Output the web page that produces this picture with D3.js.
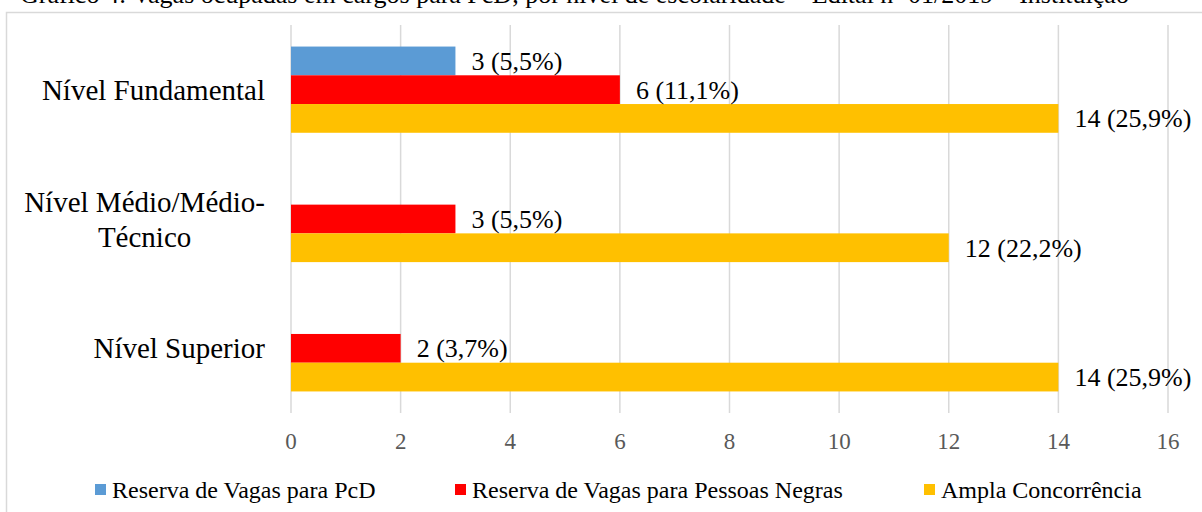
<!DOCTYPE html>
<html>
<head>
<meta charset="utf-8">
<script src="https://cdn.jsdelivr.net/npm/d3@7"></script>
<style>
  body { margin: 0; background: #fff; }
  text { font-family: "Liberation Serif", "Times New Roman", serif; }
</style>
</head>
<body>
<div class="chart"></div>
<script>
const categories = ["Nível Fundamental", "Nível Médio/Médio-Técnico", "Nível Superior"];
const categoryLines = [["Nível Fundamental"], ["Nível Médio/Médio-", "Técnico"], ["Nível Superior"]];
const seriesNames = ["Reserva de Vagas para PcD", "Reserva de Vagas para Pessoas Negras", "Ampla Concorrência"];
const seriesColors = ["#5b9bd5", "#ff0000", "#ffc000"];
const pcdValues = [3, 0, 0];
const negrasValues = [6, 3, 2];
const amplaValues = [14, 12, 14];
const pcdLabels = ["3 (5,5%)", "", ""];
const negrasLabels = ["6 (11,1%)", "3 (5,5%)", "2 (3,7%)"];
const amplaLabels = ["14 (25,9%)", "12 (22,2%)", "14 (25,9%)"];
const xTicks = [0, 2, 4, 6, 8, 10, 12, 14, 16];
const title = "Gráfico 4: Vagas ocupadas em cargos para PcD, por nível de escolaridade – Edital nº 01/2019 – Instituição";

const width = 1202;
const height = 512;

const svg = d3
  .select(".chart")
  .append("svg")
  .attr("width", width)
  .attr("height", height);

// title, mostly cut off at the top of the picture
svg
  .append("text")
  .attr("x", 20)
  .attr("y", 3)
  .attr("font-size", "26px")
  .attr("fill", "#000")
  .text(title);

// chart frame
svg
  .append("rect")
  .attr("x", 6.5)
  .attr("y", 12.5)
  .attr("width", 1220)
  .attr("height", 520)
  .attr("fill", "#fff")
  .attr("stroke", "#d9d9d9")
  .attr("stroke-width", 1.5);

const x = d3.scaleLinear().domain([0, 16]).range([291, 1168]);
const y = d3.scaleBand().domain(categories).range([25, 413]);
const yInner = d3
  .scaleBand()
  .domain(seriesNames)
  .range([0, y.bandwidth()])
  .paddingOuter(0.75);

// grid
svg
  .selectAll(".grid")
  .data(xTicks)
  .enter()
  .append("line")
  .attr("x1", (d) => x(d))
  .attr("x2", (d) => x(d))
  .attr("y1", 25)
  .attr("y2", 413)
  .attr("stroke", "#d9d9d9")
  .attr("stroke-width", 1.5);

// tick labels
svg
  .selectAll(".tick")
  .data(xTicks)
  .enter()
  .append("text")
  .attr("x", (d) => x(d))
  .attr("y", 449)
  .attr("text-anchor", "middle")
  .attr("font-size", "23px")
  .attr("fill", "#595959")
  .text((d) => d);

const rows = [];
categories.forEach((c, i) => {
  rows.push({ cat: c, s: seriesNames[0], v: pcdValues[i], label: pcdLabels[i], color: seriesColors[0] });
  rows.push({ cat: c, s: seriesNames[1], v: negrasValues[i], label: negrasLabels[i], color: seriesColors[1] });
  rows.push({ cat: c, s: seriesNames[2], v: amplaValues[i], label: amplaLabels[i], color: seriesColors[2] });
});

svg
  .selectAll(".bar")
  .data(rows.filter((d) => d.v > 0))
  .enter()
  .append("rect")
  .attr("x", x(0))
  .attr("y", (d) => y(d.cat) + yInner(d.s))
  .attr("width", (d) => x(d.v) - x(0))
  .attr("height", yInner.bandwidth())
  .attr("fill", (d) => d.color);

svg
  .selectAll(".val")
  .data(rows.filter((d) => d.label !== ""))
  .enter()
  .append("text")
  .attr("x", (d) => x(d.v) + 16)
  .attr("y", (d) => y(d.cat) + yInner(d.s) + yInner.bandwidth() / 2 + 9)
  .attr("font-size", "26px")
  .attr("fill", "#000")
  .text((d) => d.label);

// category labels: block right-aligned at 265, wrapped lines centred inside it
const labelRight = 265;
categories.forEach((d, i) => {
  const lines = categoryLines[i];
  const cy = y(d) + y.bandwidth() / 2;
  const lh = 35;
  const t = svg
    .append("text")
    .attr("text-anchor", "middle")
    .attr("font-size", "29px")
    .attr("fill", "#000");
  const spans = t
    .selectAll("tspan")
    .data(lines)
    .enter()
    .append("tspan")
    .attr("y", (l, j) => cy + 10 + (j - (lines.length - 1) / 2) * lh)
    .text((l) => l);
  let maxW = 0;
  spans.each(function () {
    maxW = Math.max(maxW, this.getComputedTextLength());
  });
  spans.attr("x", labelRight - maxW / 2);
});

// legend
const legendX = [95, 455, 924];
const legend = svg
  .selectAll(".legend")
  .data(seriesNames)
  .enter()
  .append("g")
  .attr("transform", (d, i) => "translate(" + legendX[i] + ",484)");

legend
  .append("rect")
  .attr("width", 11)
  .attr("height", 11)
  .attr("fill", (d, i) => seriesColors[i]);

legend
  .append("text")
  .attr("x", 17)
  .attr("y", 14)
  .attr("font-size", "24px")
  .attr("fill", "#000")
  .text((d) => d);
</script>
</body>
</html>
